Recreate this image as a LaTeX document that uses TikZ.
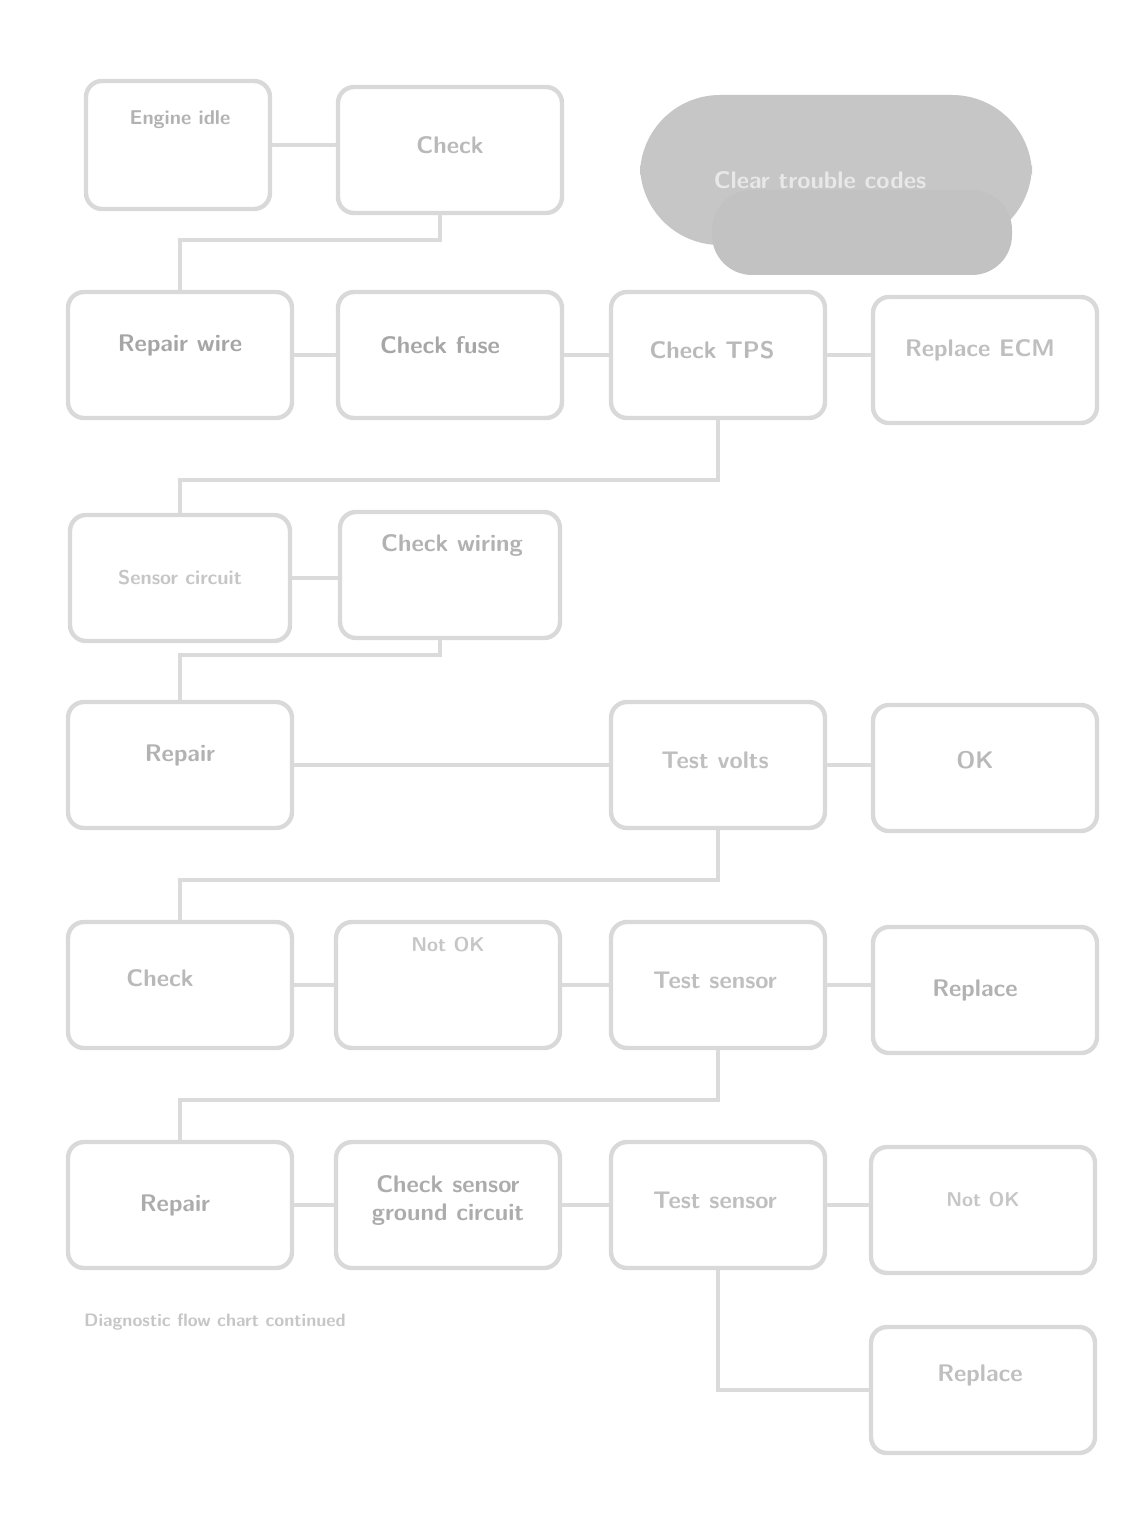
\documentclass[tikz,border=0pt]{standalone}
\usetikzlibrary{positioning}
\begin{document}
\begin{tikzpicture}[x=0.5pt,y=-0.5pt,
  bx/.style={draw=gray!30,line width=2.2pt,rounded corners=8pt,fill=white,
    minimum width=112pt,minimum height=63pt,inner sep=2pt},
  bxn/.style={bx,minimum width=107pt},
  dk/.style={text=gray!70,font=\sffamily\bfseries\large},
  lt/.style={text=gray!45,font=\sffamily\bfseries},
  ln/.style={draw=gray!28,line width=1.6pt}]
\useasboundingbox (0,0) rectangle (1138,1524);
% row 1
\node[bx,minimum width=92pt,minimum height=64pt] (a1) at (178,145) {};
\node[lt,text=gray!60] (a1t) at (180,120) {Engine idle};
\node[bx] (a2) at (450,150) {};
\node[dk,text=gray!55] (a2t) at (450,145) {Check};
% dark cloud
\fill[gray!45,rounded corners=40pt] (640,95) rectangle (1032,245);
\fill[gray!48,rounded corners=20pt] (712,190) rectangle (1012,275);
\node[text=gray!18,font=\sffamily\bfseries\large] (cl) at (820,180) {Clear trouble codes};
% row 2
\node[bx] (b1) at (180,355) {};
\node[dk] (b1t) at (180,345) {Repair wire};
\node[bx] (b2) at (450,355) {};
\node[dk] (b2t) at (440,345) {Check fuse};
\node[bxn] (b3) at (718,355) {};
\node[dk,text=gray!55] (b3t) at (712,350) {Check TPS};
\node[bx] (b4) at (985,360) {};
\node[dk,text=gray!50] (b4t) at (980,350) {Replace ECM};
% row 3
\node[bx,minimum width=110pt] (c1) at (180,578) {};
\node[lt] (c1t) at (180,578) {Sensor circuit};
\node[bx,minimum width=110pt] (c2) at (450,575) {};
\node[dk,text=gray!60] (c2t) at (452,545) {Check wiring};
% row 4
\node[bx] (d1) at (180,765) {};
\node[dk,text=gray!60] (d1t) at (180,755) {Repair};
\node[bxn] (d3) at (718,765) {};
\node[dk,text=gray!50] (d3t) at (715,760) {Test volts};
\node[bx] (d4) at (985,768) {};
\node[dk,text=gray!55] (d4t) at (975,760) {OK};
% row 5
\node[bx] (e1) at (180,985) {};
\node[dk,text=gray!55] (e1t) at (160,978) {Check};
\node[bx] (e2) at (448,985) {};
\node[lt] (e2t) at (448,945) {Not OK};
\node[bxn] (e3) at (718,985) {};
\node[dk,text=gray!50] (e3t) at (715,980) {Test sensor};
\node[bx] (e4) at (985,990) {};
\node[dk,text=gray!60] (e4t) at (975,990) {Replace};
% row 6
\node[bx] (f1) at (180,1205) {};
\node[dk,text=gray!65] (f1t) at (175,1205) {Repair};
\node[bx] (f2) at (448,1205) {};
\node[dk,text=gray!65,align=center] (f2t) at (448,1200) {Check sensor\\ground circuit};
\node[bxn] (f3) at (718,1205) {};
\node[dk,text=gray!50] (f3t) at (715,1200) {Test sensor};
\node[bx] (f4) at (983,1210) {};
\node[lt] (f4t) at (983,1200) {Not OK};
% row 7
\node[bx] (g4) at (983,1390) {};
\node[dk,text=gray!50] (g4t) at (980,1375) {Replace};
% caption
\node[text=gray!45,font=\sffamily\bfseries\small] (cap) at (215,1322) {Diagnostic flow chart continued};
% connectors
\coordinate (j1) at (440,240);
\draw[ln] (a1.east) -- (a1.east -| a2.west);
\draw[ln] (a2.south -| j1) -- (j1) -| (b1.north);
\draw[ln] (b1) -- (b2);
\draw[ln] (b2) -- (b3);
\draw[ln] (b3.east) -- (b3.east -| b4.west);
\coordinate (j2) at (718,480);
\draw[ln] (b3.south) -- (j2) -| (c1.north);
\draw[ln] (c1.east) -- (c1.east -| c2.west);
\coordinate (j3) at (440,655);
\draw[ln] (c2.south -| j3) -- (j3) -| (d1.north);
\draw[ln] (d1) -- (d3);
\draw[ln] (d3.east) -- (d3.east -| d4.west);
\coordinate (j4) at (718,880);
\draw[ln] (d3.south) -- (j4) -| (e1.north);
\draw[ln] (e1) -- (e2);
\draw[ln] (e2) -- (e3);
\draw[ln] (e3.east) -- (e3.east -| e4.west);
\coordinate (j5) at (718,1100);
\draw[ln] (e3.south) -- (j5) -| (f1.north);
\draw[ln] (f1) -- (f2);
\draw[ln] (f2) -- (f3);
\draw[ln] (f3.east) -- (f3.east -| f4.west);
\coordinate (j6) at (718,1390);
\draw[ln] (f3.south) -- (j6) -- (g4.west);
\end{tikzpicture}
\end{document}
